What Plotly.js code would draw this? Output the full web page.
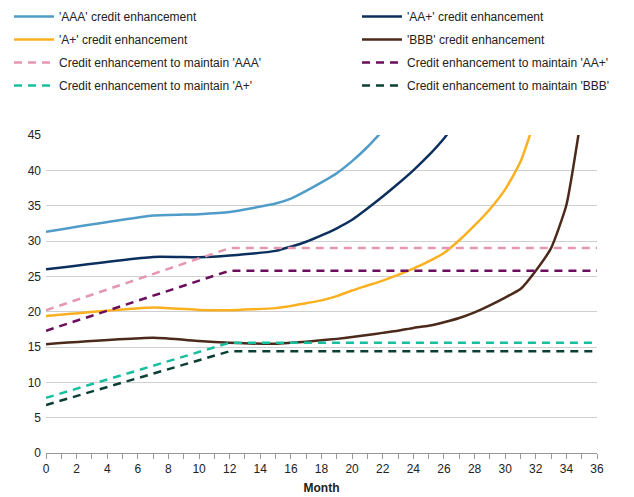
<!DOCTYPE html>
<html>
<head>
<meta charset="utf-8">
<script src="https://cdn.plot.ly/plotly-3.0.1.min.js"></script>
<style>html,body{margin:0;padding:0;background:#fff;}#chart{width:634px;height:497px;}</style>
</head>
<body>
<div id="chart"></div>
<script>
// Months at which the credit enhancement curves are sampled
const months = [0, 7, 10, 12, 15, 16, 17, 18, 19, 20, 21, 22, 23, 24, 25, 26, 27, 28, 29, 30, 31, 32, 33, 34, 35, 36];
const ceAAA = [31.3, 33.6, 33.8, 34.1, 35.3, 36.0, 37.1, 38.3, 39.6, 41.3, 43.3, 45.6, null, null, null, null, null, null, null, null, null, null, null, null, null, null];
const ceAAplus = [26.0, 27.75, 27.7, 27.95, 28.6, 29.2, 29.9, 30.8, 31.8, 33.0, 34.6, 36.3, 38.1, 40.0, 42.1, 44.5, 47.5, null, null, null, null, null, null, null, null, null];
const ceAplus = [19.4, 20.6, 20.25, 20.2, 20.5, 20.8, 21.2, 21.6, 22.2, 23.0, 23.7, 24.4, 25.2, 26.1, 27.1, 28.3, 30.1, 32.2, 34.5, 37.3, 41.2, 47.5, null, null, null, null];
const ceBBB = [15.4, 16.3, 15.85, 15.6, 15.45, 15.6, 15.75, 15.95, 16.15, 16.4, 16.7, 17.0, 17.3, 17.7, 18.0, 18.5, 19.1, 19.9, 20.9, 22.0, 23.2, 25.8, 29.0, 35.1, 48.0, null];

// Credit enhancement needed to maintain each rating
const reqMonths = [0, 12, 36];
const reqAAA = [20.2, 29.0, 29.0];
const reqAAplus = [17.3, 25.8, 25.8];
const reqAplus = [7.8, 15.6, 15.6];
const reqBBB = [6.8, 14.4, 14.4];

const names = [
  "'AAA' credit enhancement", "'AA+' credit enhancement",
  "'A+' credit enhancement", "'BBB' credit enhancement",
  "Credit enhancement to maintain 'AAA'", "Credit enhancement to maintain 'AA+'",
  "Credit enhancement to maintain 'A+'", "Credit enhancement to maintain 'BBB'"
];
const colors = ['#4f9cc8', '#0c2f5e', '#fbb020', '#4b2a1b', '#e597b2', '#6a0d5c', '#16c09f', '#0b3f36'];
// left legend column holds AAA, A+, maintain AAA, maintain A+; right column the others
const legendIds = ['legend', 'legend2', 'legend', 'legend2', 'legend', 'legend2', 'legend', 'legend2'];

const solid = [ceAAA, ceAAplus, ceAplus, ceBBB];
const req = [reqAAA, reqAAplus, reqAplus, reqBBB];
const traces = [];
solid.forEach((ys, i) => traces.push({
  x: months, y: ys, type: 'scatter', mode: 'lines', name: names[i],
  legend: legendIds[i], legendgroup: 'g' + i,
  line: {color: colors[i], width: 2.5, shape: 'spline', smoothing: 0.5},
  connectgaps: false
}));
req.forEach((ys, i) => traces.push({
  x: reqMonths, y: ys, type: 'scatter', mode: 'lines', name: names[4 + i],
  legend: legendIds[4 + i], legendgroup: 'g' + (4 + i),
  line: {color: colors[4 + i], width: 2.5, dash: '8px,6px'}
}));

function leg(x) {
  return {
    orientation: 'v', x: x, y: 1.4182, xanchor: 'left', yanchor: 'top',
    itemwidth: 40, tracegroupgap: 4,
    font: {size: 12, color: '#222'}, traceorder: 'grouped',
    bgcolor: 'rgba(0,0,0,0)', borderwidth: 0
  };
}

const layout = {
  width: 634, height: 497,
  margin: {l: 46, r: 37, t: 135, b: 44, autoexpand: false},
  paper_bgcolor: '#fff', plot_bgcolor: '#fff',
  font: {family: 'Liberation Sans, Arial, sans-serif', size: 12, color: '#222'},
  showlegend: true,
  legend: leg(-0.0672),
  legend2: leg(0.5644),
  xaxis: {
    range: [0, 36], tickvals: [0,2,4,6,8,10,12,14,16,18,20,22,24,26,28,30,32,34,36],
    ticks: 'outside', ticklen: 5, tickcolor: '#999', showgrid: false,
    showline: true, linecolor: '#999', linewidth: 1, zeroline: false,
    minor: {dtick: 1, ticks: 'outside', ticklen: 5, tickcolor: '#999', showgrid: false},
    title: {text: '<b>Month</b>', font: {size: 12, color: '#222'}, standoff: 8},
    fixedrange: true
  },
  yaxis: {
    range: [0, 45], dtick: 5, showgrid: true, gridcolor: '#cfcfcf', gridwidth: 1,
    zeroline: false, showline: false, ticks: '', ticklabelstandoff: 4,
    fixedrange: true
  }
};
Plotly.newPlot('chart', traces, layout, {displayModeBar: false, staticPlot: true});
</script>
</body>
</html>
